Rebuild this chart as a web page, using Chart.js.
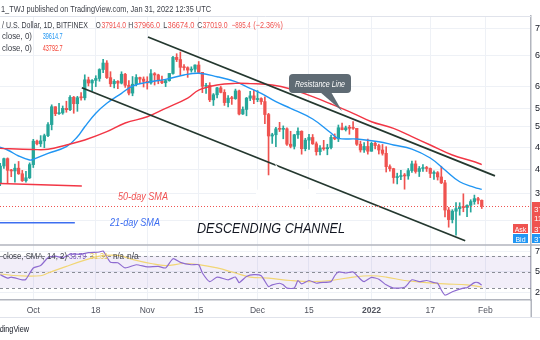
<!DOCTYPE html>
<html><head><meta charset="utf-8">
<script src="https://cdn.jsdelivr.net/npm/chart.js@4.4.1/dist/chart.umd.min.js"></script>
<style>html,body{margin:0;padding:0;background:#fff;overflow:hidden}canvas{display:block}</style>
</head><body>
<canvas id="c" width="540" height="340" style="width:540px;height:340px"></canvas>
<script>
// ---- DATA (day index: 0 = Sep 21 2021; first candle = Sep 22 2021, last = Jan 31 2022) ----
const firstDay = 1;
const open = [40530,43550,44860,42800,42680,43160,42200,41030,41520,
43790,48140,47630,48200,49220,51470,55320,53790,53950,54960,54660,57470,56000,57370,57350,61670,60880,61530,62010,64280,66000,62210,60690,61290,60850,63080,60330,58450,60590,62250,61850,
61300,60910,63220,62900,61400,60940,61470,63270,67520,66930,64860,64770,64140,64390,65470,63560,60080,60320,56880,58050,59700,58620,56250,57270,57160,58960,53720,54720,57270,57800,
56950,57180,56480,53600,49150,49400,50590,50500,50600,47550,47140,49390,50100,46700,48340,48860,47630,46130,46830,46680,46910,48880,48590,50820,50430,50800,50710,50700,47540,46460,47120,
46220,47720,47290,46450,45830,43430,43080,41560,41730,41860,41830,42740,43920,42590,43100,43180,43110,42250,42380,41660,40680,36450,35070,36280,36650,36950,36810,37160,37720,38170,37914];
const high = [44000,44950,45000,42960,43900,44350,42780,42600,44100,
48500,48360,49230,49530,51890,55750,55330,56100,55490,56560,57840,57680,57700,58550,62930,62340,61700,62700,64490,67000,66640,63730,61750,61490,63710,63290,61500,62500,62980,62360,62400,
62440,64270,63500,63090,62600,61560,63280,67790,68530,69000,65580,65000,65000,65550,66400,63560,60800,60960,58350,59850,60050,59270,57870,57700,59400,59180,55280,57440,58870,59180,
59040,57360,57600,53860,49700,50900,51940,51200,50800,50100,49490,50800,50200,48700,49500,49450,47990,47310,48300,47540,49330,49570,51380,51810,51160,51300,52090,50700,48140,47880,48550,
47940,47990,47560,47500,47070,43750,43150,42300,42790,42250,43100,44420,44460,43460,43800,43480,43200,42690,42580,43500,41100,36840,36500,37550,37540,38920,37230,38000,38720,38360,37966];
const low = [40200,43100,40700,41700,40800,42100,40900,40800,41400,
43280,47430,47100,46890,49000,50380,53360,53620,53660,54100,54420,53880,54300,56820,56850,60150,58960,60000,61320,63480,62000,60000,59670,59500,60650,59820,58000,57820,60170,60720,59900,
59400,60620,60380,60700,60720,60000,61320,63100,66380,62820,64100,62280,63600,63600,63400,58560,58370,56470,55600,57350,58500,55610,55290,55840,57000,53500,53610,53330,56700,56000,
56450,55850,51680,42000,47700,47100,50040,48600,47320,46850,46640,48650,45670,46290,46550,47510,45500,45520,46400,45560,46630,48420,48050,50390,50150,49500,50460,47310,46060,46000,45680,
46210,46650,45700,45500,42500,42650,40610,40500,41200,39650,41270,42450,42300,41730,42600,42590,41540,41250,41140,40550,35440,34010,34600,32920,35700,36200,35500,36150,37300,37350,36674];
const close = [43550,44860,42800,42680,43160,42200,41030,41520,43790,
48140,47630,48200,49220,51470,55320,53790,53950,54960,54660,57470,56000,57370,57350,61670,60880,61530,62010,64280,66000,62210,60690,61290,60850,63080,60330,58450,60590,62250,61850,61300,
60910,63220,62900,61400,60940,61470,63270,67520,66930,64860,64770,64140,64390,65470,63560,60080,60320,56880,58050,59700,58620,56250,57270,57160,58960,53720,54720,57270,57800,56950,
57180,56480,53600,49150,49400,50590,50500,50600,47550,47140,49390,50100,46700,48340,48860,47630,46130,46830,46680,46910,48880,48590,50820,50430,50800,50710,50700,47540,46460,47120,46220,
47720,47290,46450,45830,43430,43080,41560,41730,41860,41830,42740,43920,42590,43100,43180,43110,42250,42380,41660,40680,36450,35070,36280,36650,36950,36810,37160,37720,38170,37920,37019];

// 21-day and 50-day SMA (day, price)
const sma21Days = [0,3,6,9,10,14,19,22,24,27,30,34,37,41,46,51,55,60,65,69,72,76,80,86,91,93,98,104,108,113,118,122,126,130,132];
const sma21 = [47200,46450,45340,44610,44740,45830,47070,49010,51030,53870,56090,58400,60140,61050,61790,62880,63310,62450,61200,59590,58400,56450,54960,52640,49750,48690,48560,48030,47400,46630,44970,42840,40860,39950,39615];
const sma50Days = [0,10,14,19,24,30,35,41,46,52,55,60,65,69,75,80,86,91,97,102,108,113,118,124,130,132];
const sma50 = [46770,46540,46580,47400,48360,50010,51800,53130,54960,57300,59180,60390,60800,60740,60390,59420,57610,55930,53870,52070,50700,49010,47400,45520,44300,43793];

// RSI(14) and its SMA
const rsiDays = [1,3,4,7,8,10,12,14,16,18,20,23,25,28,29,31,33,35,38,41,44,46,48,50,53,55,56,58,60,63,65,66,68,70,72,74,75,77,78,79,81,82,83,85,87,88,91,92,93,95,97,99,100,102,104,106,108,111,113,115,117,119,120,121,122,124,127,128,130,131,132];
const rsi = [46.6,42.4,43.7,40.3,41,55,58,67.7,69.7,67.7,72,72,74,74.8,76,62,61.4,55,59,56.3,57,55,66.5,62,59,59,48.7,38,43.7,40.3,43.7,36.8,44.4,46.6,45.3,31.8,34,36,34,30,30,39.4,35.2,39.4,36,36.8,38,45.3,50,48.7,50,41,38,43.2,41,34,30,31,40.3,38,39.4,36.8,36,27.6,21.3,25.4,30,30.5,36.8,36.8,33.79];
const rsiSmaDays = [1,6,12,14,19,24,28,33,37,42,46,51,55,60,65,69,74,80,86,91,97,102,106,111,117,122,128,132];
const rsiSma = [47.5,45.3,45.3,48.7,57,64.7,69.7,70.6,65.6,60.5,58,60.5,59.2,55,48.7,43.7,42.4,39.4,38,39.4,43.7,45.3,43.7,39.4,36.8,35.2,34,31.31];

// drawn lines (channel, legend samples) as (day, price)
const upperDays = [41.2,135.6], upperPrices = [73310,41850];
const lowerDays = [23.2,127.5], lowerPrices = [59730,32200];
const redMarkDays = [0,23.2], redMarkPrices = [40610,40160];
const blueMarkDays = [0,21.3], blueMarkPrices = [34630,34630];

// axes
const tickDays = [10,27,41,55,71,85,102,118,133];
const tickLabels = ['Oct','18','Nov','15','Dec','15','2022','17','Feb'];
const priceTicks = [76000,68000,60000,55000,51000,47000,43000,39000,35000];
const rsiTicks = [25,50,75];
const rsiLevels = [30,50,70];

// ---- CHART ----
const UP = '#26a69a', DOWN = '#ef5350';
const days = close.map((_, i) => firstDay + i);
const candleColor = close.map((c, i) => c >= open[i] ? UP : DOWN);
const pts = (xs, ys) => xs.map((d, i) => ({x: d, y: ys[i]}));
const FONT = "'Liberation Sans', Arial, sans-serif";

function txt(ctx, s, x, y, font, color, maxW, align) {
  ctx.font = font; ctx.fillStyle = color; ctx.textAlign = align || 'left'; ctx.textBaseline = 'alphabetic';
  if (maxW) ctx.fillText(s, x, y, maxW); else ctx.fillText(s, x, y);
}
function rrect(ctx, x, y, w, h, r) {
  ctx.beginPath();
  ctx.moveTo(x + r, y); ctx.lineTo(x + w - r, y); ctx.quadraticCurveTo(x + w, y, x + w, y + r);
  ctx.lineTo(x + w, y + h - r); ctx.quadraticCurveTo(x + w, y + h, x + w - r, y + h);
  ctx.lineTo(x + r, y + h); ctx.quadraticCurveTo(x, y + h, x, y + h - r);
  ctx.lineTo(x, y + r); ctx.quadraticCurveTo(x, y, x + r, y); ctx.closePath();
}

const overlay = {
  id: 'overlay',
  beforeDatasetsDraw(chart) {
    const {ctx, chartArea: a, scales: {yr}} = chart;
    ctx.save();
    const yTop = yr.getPixelForValue(rsiLevels[2]), yBot = yr.getPixelForValue(rsiLevels[0]);
    ctx.fillStyle = 'rgba(126,87,194,0.10)';
    ctx.fillRect(a.left, yTop, a.right - a.left, yBot - yTop);
    ctx.strokeStyle = '#8a8d96'; ctx.lineWidth = 1; ctx.setLineDash([3, 3]);
    rsiLevels.forEach(v => {
      const py = Math.round(yr.getPixelForValue(v)) + 0.5;
      ctx.beginPath(); ctx.moveTo(a.left, py); ctx.lineTo(a.right, py); ctx.stroke();
    });
    ctx.restore();
  },
  afterDatasetsDraw(chart) {
    const {ctx, chartArea: a, scales: {y, yr}} = chart;
    ctx.save();
    // last price line
    const py = Math.round(y.getPixelForValue(close[close.length - 1])) + 0.5;
    ctx.strokeStyle = '#ef5350'; ctx.lineWidth = 1; ctx.setLineDash([1, 2]);
    ctx.beginPath(); ctx.moveTo(a.left, py); ctx.lineTo(a.right, py); ctx.stroke();
    ctx.setLineDash([]);

    // pane separator, top rule, bottom rules
    ctx.strokeStyle = '#b2b5be'; ctx.lineWidth = 1.5;
    ctx.beginPath(); ctx.moveTo(0, y.bottom); ctx.lineTo(540, y.bottom); ctx.stroke();
    ctx.beginPath(); ctx.moveTo(531.25, a.bottom); ctx.lineTo(531.25, 317); ctx.stroke();
    ctx.strokeStyle = '#e0e3eb'; ctx.lineWidth = 1;
    ctx.beginPath(); ctx.moveTo(0, 16.5); ctx.lineTo(531, 16.5); ctx.stroke();
    ctx.beginPath(); ctx.moveTo(0, 317.5); ctx.lineTo(540, 317.5); ctx.stroke();

    // callouts
    ctx.fillStyle = '#5f6b74';
    rrect(ctx, 289, 74, 62, 19, 4); ctx.fill();
    ctx.beginPath(); ctx.moveTo(320, 92); ctx.lineTo(331, 92); ctx.lineTo(342, 111); ctx.closePath(); ctx.fill();
    txt(ctx, 'Resistance Line', 320, 86.5, "italic 9px " + FONT, '#ffffff', 50, 'center');
    rrect(ctx, 256, 189, 60, 15, 4); ctx.fill();
    ctx.beginPath(); ctx.moveTo(282, 190); ctx.lineTo(294, 190); ctx.lineTo(275, 163); ctx.closePath(); ctx.fill();
    txt(ctx, 'Support Line', 286, 199.5, "italic 9px " + FONT, '#ffffff', 42, 'center');

    // text notes
    txt(ctx, '50-day SMA', 118, 199.5, "italic 10px " + FONT, '#f05252', 50);
    txt(ctx, '21-day SMA', 110, 226, "italic 10px " + FONT, '#3d6ef0', 50);
    txt(ctx, 'DESCENDING CHANNEL', 197, 232.7, "italic 15px " + FONT, '#131722', 148);

    // header legends
    txt(ctx, '1_TWJ published on TradingView.com, Jan 31, 2022 12:35 UTC', 1, 11.7, "9.5px " + FONT, '#3b3e47', 210);
    txt(ctx, '/ U.S. Dollar, 1D, BITFINEX', 2, 28.3, "9px " + FONT, '#3b3e47', 86);
    const R = '#ef5350', G = '#3b3e47';
    [['O',95.7,5,G],['37914.0',101.5,24.5,R],['H',128.3,5,G],['37966.0',134,26,R],['L',163.3,4,G],['36674.0',167.5,27,R],
     ['C',197.3,5,G],['37019.0',202.5,25,R],['\u2212895.4',231.7,19,R],['(\u22122.36%)',253.3,29.5,R]]
      .forEach(([s, x, w, c]) => txt(ctx, s, x, 28.3, "9px " + FONT, c, w));
    txt(ctx, 'close, 0)', 2, 38.5, "9px " + FONT, G, 30);
    txt(ctx, '39614.7', 42.7, 38.5, "9px " + FONT, '#2196f3', 20);
    txt(ctx, 'close, 0)', 2, 50.5, "9px " + FONT, G, 30);
    txt(ctx, '43792.7', 42.7, 50.5, "9px " + FONT, '#f44336', 20);
    // RSI legend
    txt(ctx, 'close, SMA, 14, 2)', 3, 258.5, "8.5px " + FONT, G, 64);
    txt(ctx, '33.79', 69, 258.5, "8.5px " + FONT, '#7e57c2', 17);
    txt(ctx, '31.31', 90, 258.5, "8.5px " + FONT, '#e5c65a', 18);
    txt(ctx, 'n/a', 113, 258.5, "8.5px " + FONT, G, 11);
    txt(ctx, 'n/a', 127, 258.5, "8.5px " + FONT, G, 12);
    // footer
    txt(ctx, 'TradingView', 29, 332, "8.5px " + FONT, '#131722', 40, 'right');

    // ask / bid + axis price boxes
    ctx.fillStyle = '#ef5350'; ctx.fillRect(513, 224, 15, 9); ctx.fillRect(532, 202, 8, 31);
    ctx.fillStyle = '#2196f3'; ctx.fillRect(513, 234, 15, 9); ctx.fillRect(532, 234, 8, 9);
    txt(ctx, 'Ask', 520.5, 231.5, "7px " + FONT, '#ffffff', 13, 'center');
    txt(ctx, 'Bid', 520.5, 241.5, "7px " + FONT, '#ffffff', 13, 'center');
    txt(ctx, '37019.0', 534, 211.5, "8px " + FONT, '#ffffff');
    txt(ctx, '11:24:51', 534, 220.5, "8px " + FONT, '#ffffff');
    txt(ctx, '37021.0', 534, 231.5, "8px " + FONT, '#ffffff');
    txt(ctx, '37019.0', 534, 241.5, "8px " + FONT, '#ffffff');
    ctx.restore();
  }
};

const lineDs = (label, xs, ys, color, width, axis, order, tension) => ({
  type: 'line', label, data: pts(xs, ys), yAxisID: axis, borderColor: color, borderWidth: width,
  pointRadius: 0, tension: tension || 0, order, fill: false
});

new Chart(document.getElementById('c'), {
  type: 'bar',
  data: {
    datasets: [
      {label: 'wick', data: days.map((d, i) => ({x: d, y: [low[i], high[i]]})), backgroundColor: candleColor,
       barThickness: 1, grouped: false, yAxisID: 'y', order: 6},
      {label: 'body', data: days.map((d, i) => ({x: d, y: [open[i], close[i]]})), backgroundColor: candleColor,
       barThickness: 2.6, minBarLength: 1, grouped: false, yAxisID: 'y', order: 5},
      lineDs('SMA 50', sma50Days, sma50, '#f23645', 1.4, 'y', 3, 0.4),
      lineDs('SMA 21', sma21Days, sma21, '#2196f3', 1.4, 'y', 3, 0.4),
      lineDs('Upper', upperDays, upperPrices, '#24382f', 1.8, 'y', 1),
      lineDs('Lower', lowerDays, lowerPrices, '#24382f', 1.8, 'y', 1),
      lineDs('red mark', redMarkDays, redMarkPrices, '#f23645', 1.5, 'y', 2),
      lineDs('blue mark', blueMarkDays, blueMarkPrices, '#3d6ef0', 1.5, 'y', 2),
      lineDs('RSI SMA', rsiSmaDays, rsiSma, '#f2d675', 1.2, 'yr', 3, 0.4),
      lineDs('RSI', rsiDays, rsi, '#8e6bd0', 1.2, 'yr', 2, 0.2)
    ]
  },
  options: {
    responsive: false, animation: false, events: [],
    layout: {padding: {top: 16, left: 0, right: 0, bottom: 0}},
    plugins: {legend: {display: false}, tooltip: {enabled: false}},
    scales: {
      x: {
        type: 'linear', min: 0.94, max: 145.4, offset: false,
        grid: {color: '#eef1f6', drawTicks: false, offset: false},
        border: {color: '#b2b5be', width: 1.5},
        afterBuildTicks: s => { s.ticks = tickDays.map(v => ({value: v})); },
        afterFit: s => { s.height = 40; },
        ticks: {
          autoSkip: false, maxRotation: 0, padding: 6, color: '#50535e',
          font: c => ({family: FONT, size: 8.5, weight: (c.tick && tickLabels[tickDays.indexOf(c.tick.value)] === '2022') ? 'bold' : 'normal'}),
          callback: v => tickLabels[tickDays.indexOf(v)] ?? ''
        }
      },
      y: {
        type: 'logarithmic', position: 'right', stack: 'pane', stackWeight: 229,
        min: 31650, max: 79800,
        grid: {color: '#eef1f6', drawTicks: false},
        border: {color: '#b2b5be', width: 1.5},
        afterBuildTicks: s => { s.ticks = priceTicks.map(v => ({value: v})); },
        afterFit: s => { s.width = 9; },
        ticks: {padding: 4, color: '#131722', font: {family: FONT, size: 9}, callback: v => v.toFixed(1)}
      },
      yr: {
        type: 'linear', position: 'right', stack: 'pane', stackWeight: 55,
        min: 15.2, max: 83.5,
        grid: {color: '#eef1f6', drawTicks: false},
        border: {color: '#b2b5be', width: 1.5},
        afterBuildTicks: s => { s.ticks = rsiTicks.map(v => ({value: v})); },
        afterFit: s => { s.width = 9; },
        ticks: {padding: 4, color: '#131722', font: {family: FONT, size: 9}, callback: v => v.toFixed(2)}
      }
    }
  },
  plugins: [overlay]
});
</script>
</body></html>
